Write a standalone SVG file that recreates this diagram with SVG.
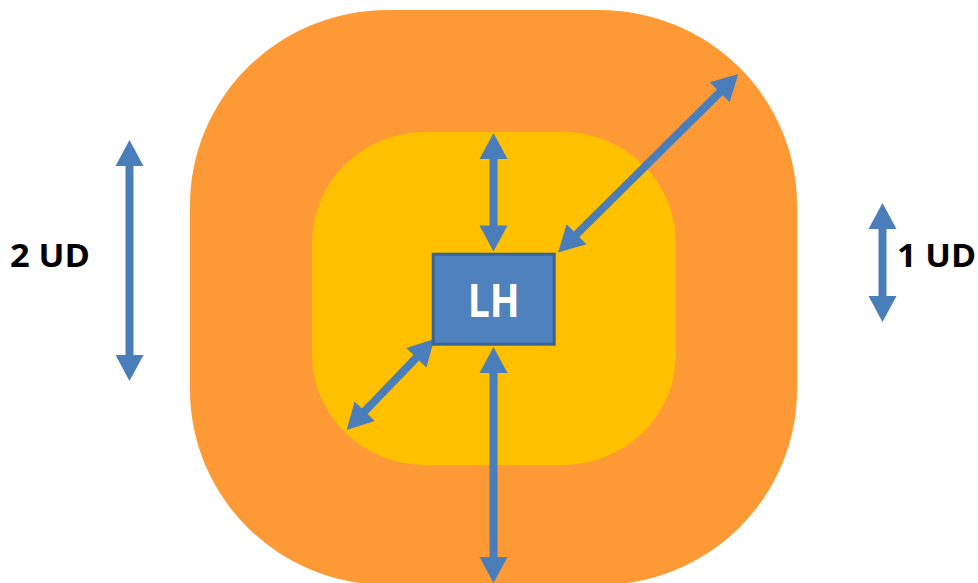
<svg xmlns="http://www.w3.org/2000/svg" width="978" height="583" viewBox="0 0 978 583">
  <defs>
    <style>
      .arrow { stroke: #4A7EBB; stroke-width: 8; fill: none; marker-start: url(#head); marker-end: url(#head); }
      .label { font-family: "Open Sans", "Liberation Sans", sans-serif; font-weight: bold; font-size: 33px; fill: #000000; }
      .node-text { font-family: "Open Sans", "Liberation Sans", sans-serif; font-weight: bold; font-size: 46px; fill: #FFFFFF; }
    </style>
    <marker id="head" markerUnits="userSpaceOnUse" markerWidth="27" markerHeight="28" refX="1" refY="14" orient="auto-start-reverse" overflow="visible">
      <path d="M0,0 L26,14 L0,28 Z" fill="#4A7EBB"/>
    </marker>
  </defs>
  <rect width="978" height="583" fill="#FFFFFF"/>
  <g id="outer-zone">
    <rect x="190" y="10" width="607" height="575" rx="198" ry="195" fill="#FE9A36"/>
  </g>
  <g id="inner-zone">
    <rect x="312" y="132" width="364" height="333" rx="113" ry="111" fill="#FFC000"/>
  </g>
  <g id="connectors">
    <line class="arrow" x1="129.5" y1="165" x2="129.5" y2="356"/>
    <line class="arrow" x1="882.5" y1="228" x2="882.5" y2="297"/>
    <line class="arrow" x1="493.5" y1="158" x2="493.5" y2="226.5"/>
    <line class="arrow" x1="493.5" y1="372" x2="493.5" y2="558"/>
    <line class="arrow" x1="720.5" y1="91.6" x2="575.8" y2="235"/>
    <line class="arrow" x1="417" y1="357" x2="364" y2="412"/>
  </g>
  <g id="node-LH">
    <rect x="433.2" y="254.2" width="121" height="90" fill="#4F81BD" stroke="#3A6494" stroke-width="3"/>
    <text class="node-text" x="493.7" y="317" text-anchor="middle" textLength="52" lengthAdjust="spacingAndGlyphs">LH</text>
  </g>
  <g id="label-2UD">
    <text class="label" x="10" y="267" textLength="80" lengthAdjust="spacingAndGlyphs">2 UD</text>
  </g>
  <g id="label-1UD">
    <text class="label" x="897" y="267" textLength="79" lengthAdjust="spacingAndGlyphs">1 UD</text>
  </g>
</svg>
